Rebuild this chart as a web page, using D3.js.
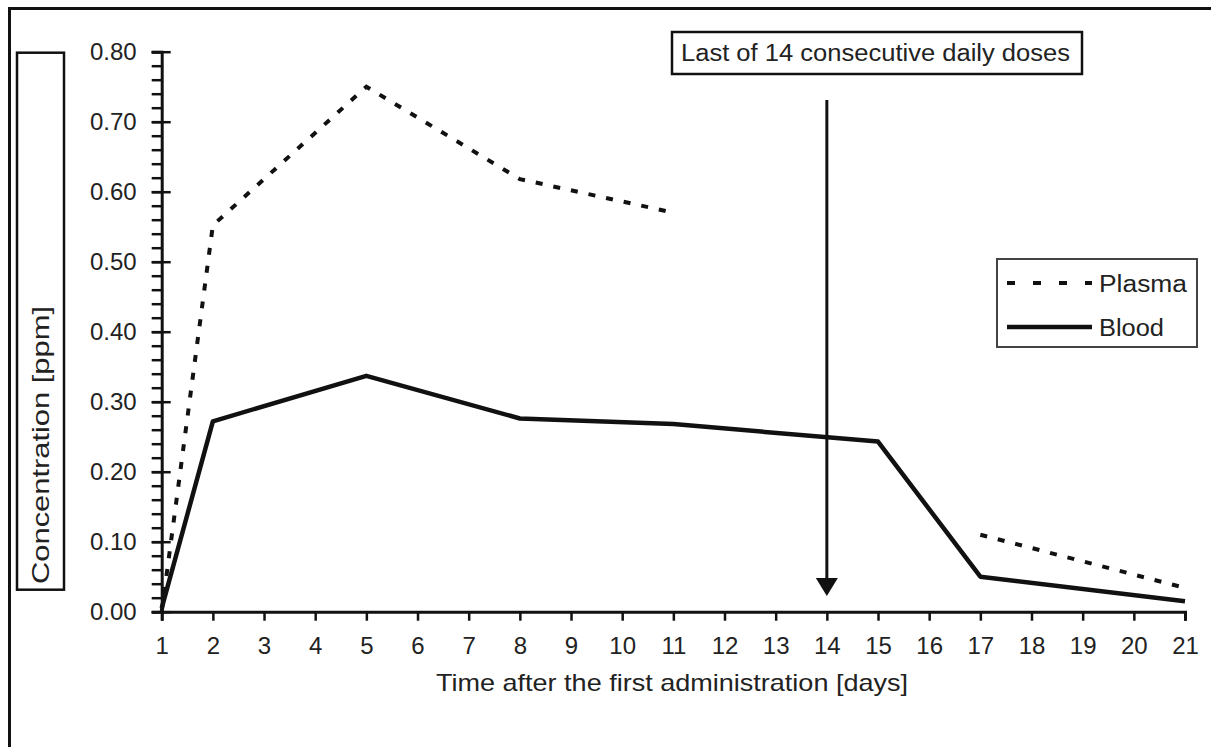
<!DOCTYPE html>
<html>
<head>
<meta charset="utf-8">
<script src="https://cdn.jsdelivr.net/npm/d3@7"></script>
<style>
  html, body { margin: 0; padding: 0; background: #fff; }
  svg { display: block; font-family: "Liberation Sans", Arial, sans-serif; }
</style>
</head>
<body>
<svg id="chart" width="1211" height="747"></svg>
<script>
// Sampling days and measured concentrations (ppm)
const days = [1, 2, 5, 8, 11, 15, 17, 21];
const plasma = [0.0, 0.552, 0.75, 0.618, 0.57, null, 0.11, 0.034];
const blood = [0.005, 0.272, 0.337, 0.276, 0.268, 0.243, 0.05, 0.015];

const xTicks = d3.range(1, 22);
const yMajorTicks = d3.range(0, 9).map(i => i / 10);
const yMinorTicks = d3.range(0, 41).map(i => i / 50);

const annotationDay = 14;
const annotationText = "Last of 14 consecutive daily doses";
const seriesNames = ["Plasma", "Blood"];

const svg = d3.select("#chart");
const ink = "#111";
const textInk = "#222";

const x = d3.scaleLinear().domain([1, 21]).range([161.7, 1185]);
const y = d3.scaleLinear().domain([0, 0.8]).range([611.7, 51.7]);

// text helper: fixed size, stretched to a set width
function label(parent, opts) {
  const t = parent.append("text")
    .attr("font-size", opts.size)
    .attr("fill", textInk)
    .text(opts.text);
  if (opts.transform) t.attr("transform", opts.transform);
  else t.attr("x", opts.x).attr("y", opts.y);
  if (opts.anchor) t.attr("text-anchor", opts.anchor);
  if (opts.width) t.attr("textLength", opts.width).attr("lengthAdjust", "spacingAndGlyphs");
  return t;
}

// outer frame (top and left edges)
svg.append("path")
  .attr("d", "M9.5,747 L9.5,8.5 L1211,8.5")
  .attr("fill", "none").attr("stroke", ink).attr("stroke-width", 3);

// y-axis title box
svg.append("rect")
  .attr("x", 17).attr("y", 52.7).attr("width", 47).attr("height", 537)
  .attr("fill", "#fff").attr("stroke", ink).attr("stroke-width", 2.5);
label(svg, { transform: "translate(49,584) rotate(-90)", size: 24, text: "Concentration [ppm]", width: 278 });

// y axis: minor ticks
const yMinor = svg.append("g").attr("transform", `translate(${x(1)},0)`)
  .call(d3.axisLeft(y).tickValues(yMinorTicks).tickSize(10).tickFormat(""));
yMinor.select(".domain").remove();
yMinor.selectAll("line").attr("stroke", ink).attr("stroke-width", 2.5);

// y axis: major ticks crossing the line, with labels
const yMajor = svg.append("g").attr("transform", `translate(${x(1)},0)`)
  .call(d3.axisLeft(y).tickValues(yMajorTicks).tickSize(10).tickPadding(15)
    .tickFormat(d3.format(".2f")));
yMajor.select(".domain").attr("stroke", ink).attr("stroke-width", 3);
yMajor.selectAll("line").attr("x1", 9).attr("stroke", ink).attr("stroke-width", 2.5);
yMajor.selectAll("text").attr("font-size", 24).attr("fill", textInk)
  .attr("font-family", "Liberation Sans, Arial, sans-serif");

// x axis
const xAxis = svg.append("g").attr("transform", `translate(0,${y(0)})`)
  .call(d3.axisBottom(x).tickValues(xTicks).tickSize(9).tickPadding(16)
    .tickFormat(d3.format("d")));
xAxis.select(".domain").attr("stroke", ink).attr("stroke-width", 3);
xAxis.selectAll("line").attr("stroke", ink).attr("stroke-width", 2.5);
xAxis.selectAll("text").attr("font-size", 24).attr("fill", textInk)
  .attr("font-family", "Liberation Sans, Arial, sans-serif");

label(svg, { x: 436, y: 691, size: 24, text: "Time after the first administration [days]", width: 472 });

// series
const line = d3.line()
  .defined(d => d[1] !== null)
  .x(d => x(d[0])).y(d => y(d[1]));

svg.append("path")
  .datum(days.map((d, i) => [d, plasma[i]]))
  .attr("d", line)
  .attr("fill", "none").attr("stroke", ink).attr("stroke-width", 4)
  .attr("stroke-dasharray", "7,11");

svg.append("path")
  .datum(days.map((d, i) => [d, blood[i]]))
  .attr("d", line)
  .attr("fill", "none").attr("stroke", ink).attr("stroke-width", 4.5)
  .attr("stroke-linejoin", "round");

// annotation arrow and box
const ax = x(annotationDay);
svg.append("line")
  .attr("x1", ax).attr("x2", ax).attr("y1", 100).attr("y2", 580)
  .attr("stroke", ink).attr("stroke-width", 3);
svg.append("path")
  .attr("d", `M${ax - 11},578 L${ax + 11},578 L${ax},596 Z`)
  .attr("fill", ink);

svg.append("rect")
  .attr("x", 672).attr("y", 32).attr("width", 410).attr("height", 42)
  .attr("fill", "#fff").attr("stroke", ink).attr("stroke-width", 2.5);
label(svg, { x: 681, y: 61, size: 23, text: annotationText, width: 389 });

// legend
const legend = svg.append("g");
legend.append("rect")
  .attr("x", 997).attr("y", 259).attr("width", 200).attr("height", 88)
  .attr("fill", "#fff").attr("stroke", "#444").attr("stroke-width", 2);
const legendRows = [
  { name: seriesNames[0], dash: "8,18", y: 283, width: 88 },
  { name: seriesNames[1], dash: null, y: 327, width: 65 }
];
legendRows.forEach(r => {
  legend.append("line")
    .attr("x1", 1007).attr("x2", 1092).attr("y1", r.y).attr("y2", r.y)
    .attr("stroke", ink).attr("stroke-width", r.dash ? 4 : 4.5)
    .attr("stroke-dasharray", r.dash);
  label(legend, { x: 1099, y: r.y + 9, size: 23, text: r.name, width: r.width });
});
</script>
</body>
</html>
